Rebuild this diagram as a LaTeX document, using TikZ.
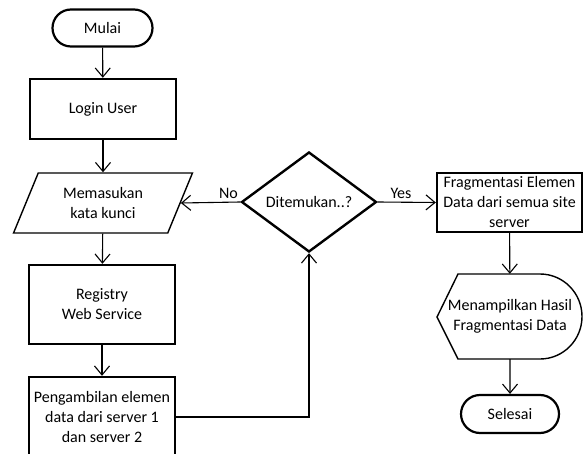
\documentclass[tikz,border=0pt]{standalone}
\usepackage{fontspec}
\setmainfont{Carlito}
\usetikzlibrary{shapes.geometric,shapes.misc,arrows.meta}
\begin{document}
\begin{tikzpicture}[x=1pt,y=-1pt,
  font=\fontsize{16}{20}\selectfont,
  every node/.style={inner sep=0pt, align=center},
  box/.style={draw, line width=2.4pt, minimum width=146pt},
  term/.style={draw, rounded rectangle, line width=2.2pt},
  io/.style={draw, trapezium, trapezium left angle=64, trapezium right angle=116,
    trapezium stretches=true, line width=1.4pt, minimum width=179pt, minimum height=60pt},
  decision/.style={draw, diamond, aspect=1.35, line width=2.4pt, minimum width=135pt, minimum height=100pt},
  flow/.style={line width=1.1pt, -{Straight Barb[length=9pt,width=15pt,line width=1.1pt]}},
  lbl/.style={font=\fontsize{16}{20}\selectfont}
]
\useasboundingbox (0,0) rectangle (583,454);
\clip (0,0) rectangle (583,454);

\node[term, minimum width=100pt, minimum height=37pt] (mulai) at (102.5,28) {Mulai};
\node[box, minimum height=60pt] (login) at (103,109) {Login User};
\node[io] (input) at (103,203) {Memasukan\\kata kunci};
\node[box, minimum height=79pt] (reg) at (102,304.5) {Registry\\Web Service};
\node[box, minimum height=80pt] (peng) at (102,417) {Pengambilan elemen\\data dari server 1\\dan server 2};
\node[decision] (dia) at (309,202) {Ditemukan..?};
\node[box, minimum width=145pt, minimum height=59pt] (frag) at (509.5,202.5) {Fragmentasi Elemen\\Data dari semua site\\server};

% display shape
\draw[line width=1.4pt] (437,317) -- (458,274) -- (540,274)
  arc[start angle=90, end angle=-90, x radius=42pt, y radius=42.5pt]
  -- (458,359) -- cycle;
\node[minimum width=140pt, minimum height=85pt] (disp) at (510,316.5) {Menampilkan Hasil\\Fragmentasi Data};

\node[term, minimum width=98pt, minimum height=38pt] (sel) at (510,414) {Selesai};

\draw[flow] (mulai) -- (login);
\draw[flow] (login) -- (input);
\draw[flow] (input) -- (reg);
\draw[flow] (reg) -- (peng);
\draw[flow] (peng.east) -| (dia.south);
\draw[flow] (dia.west) -- (input.east) node[pos=0.2, above=3pt] {No};
\draw[flow] (dia.east) -- (frag.west) node[pos=0.4, above=3pt] {Yes};
\draw[flow] (frag) -- (disp);
\draw[flow] (disp) -- (sel);
\end{tikzpicture}
\end{document}
